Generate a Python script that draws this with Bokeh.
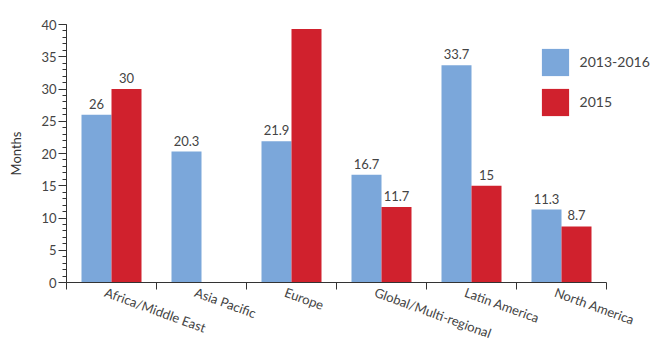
from bokeh.plotting import figure
from bokeh.models import ColumnDataSource, FixedTicker, Range1d, Legend, LegendItem
from bokeh.embed import file_html
from bokeh.resources import INLINE

categories = ["Africa/Middle East", "Asia Pacific", "Europe", "Global/Multi-regional", "Latin America", "North America"]
series_2013_2016 = [26, 20.3, 21.9, 16.7, 33.7, 11.3]
series_2015 = [30, None, 39.3, 11.7, 15, 8.7]
series_names = ["2013-2016", "2015"]
y_ticks = [0, 5, 10, 15, 20, 25, 30, 35, 40]

BLUE = "#7ba7da"
RED = "#d0212d"
FONT = "Lato"

n = len(categories)
idx = list(range(n))
bw = 1.0 / 3.0

src_a = ColumnDataSource(dict(
    x=[i + 0.5 - bw / 2 for i in idx],
    top=series_2013_2016,
    lab=[("%g" % v) for v in series_2013_2016],
))
b_idx = [i for i in idx if series_2015[i] is not None]
src_b = ColumnDataSource(dict(
    x=[i + 0.5 + bw / 2 for i in b_idx],
    top=[series_2015[i] for i in b_idx],
    lab=[("%g" % series_2015[i]) for i in b_idx],
))

# frame: 596 px wide, 90 px per category
p = figure(width=668, height=351, output_backend="svg", toolbar_location=None,
           x_range=Range1d(0, 596 / 90), y_range=Range1d(0, 40),
           min_border_left=66, min_border_right=6, min_border_top=24, min_border_bottom=69)
p.outline_line_color = None
p.xgrid.visible = False
p.ygrid.visible = False
p.background_fill_color = "white"
p.border_fill_color = "white"

ra = p.vbar(x="x", top="top", width=bw, bottom=0, source=src_a, fill_color=BLUE, line_color=None)
rb = p.vbar(x="x", top="top", width=bw, bottom=0, source=src_b, fill_color=RED, line_color=None)

for s in (src_a, src_b):
    p.text(x="x", y="top", text="lab", source=s, text_align="center", text_baseline="bottom",
           y_offset=-6, text_font_size="13px", text_color="#444444",
           text_font={"value": FONT})

# y axis
ya = p.yaxis[0]
ya.ticker = FixedTicker(ticks=y_ticks, minor_ticks=list(range(0, 41)))
ya.axis_label = "Months"
ya.axis_label_text_font = FONT
ya.axis_label_text_font_style = "normal"
ya.axis_label_text_font_size = "13px"
ya.axis_label_text_color = "#333333"
ya.axis_label_standoff = 14
ya.major_label_text_font = FONT
ya.major_label_text_font_size = "13px"
ya.major_label_text_color = "#444444"
ya.major_tick_out = 8
ya.major_tick_in = 0
ya.minor_tick_out = 4
ya.minor_tick_in = 0
ya.major_label_standoff = 2
ya.axis_line_color = "#333333"
ya.major_tick_line_color = "#333333"
ya.minor_tick_line_color = "#333333"

# x axis
xa = p.xaxis[0]
xa.bounds = (0, n)
label_pos = [i + 0.43 for i in idx]
xa.ticker = FixedTicker(ticks=label_pos, minor_ticks=list(range(0, n + 1)))
xa.major_label_overrides = {x: c for x, c in zip(label_pos, categories)}
xa.major_label_orientation = -0.35
xa.major_label_text_font = FONT
xa.major_label_text_font_size = "13px"
xa.major_label_text_color = "#444444"
xa.major_tick_out = 0
xa.major_tick_in = 0
xa.minor_tick_out = 7
xa.minor_tick_in = 0
xa.major_label_standoff = 2
xa.axis_line_color = "#333333"
xa.minor_tick_line_color = "#333333"

legend = Legend(items=[LegendItem(label=series_names[0], renderers=[ra]),
                       LegendItem(label=series_names[1], renderers=[rb])],
                location=(471.6, 163.4))
legend.glyph_width = 34
legend.glyph_height = 34
legend.spacing = 6
legend.padding = 0
legend.margin = 0
legend.label_standoff = 8
legend.border_line_color = None
legend.background_fill_alpha = 0
legend.label_text_font = FONT
legend.label_text_font_size = "14px"
legend.label_text_color = "#444444"
p.add_layout(legend)

open("out.html", "w").write(file_html(p, INLINE))
